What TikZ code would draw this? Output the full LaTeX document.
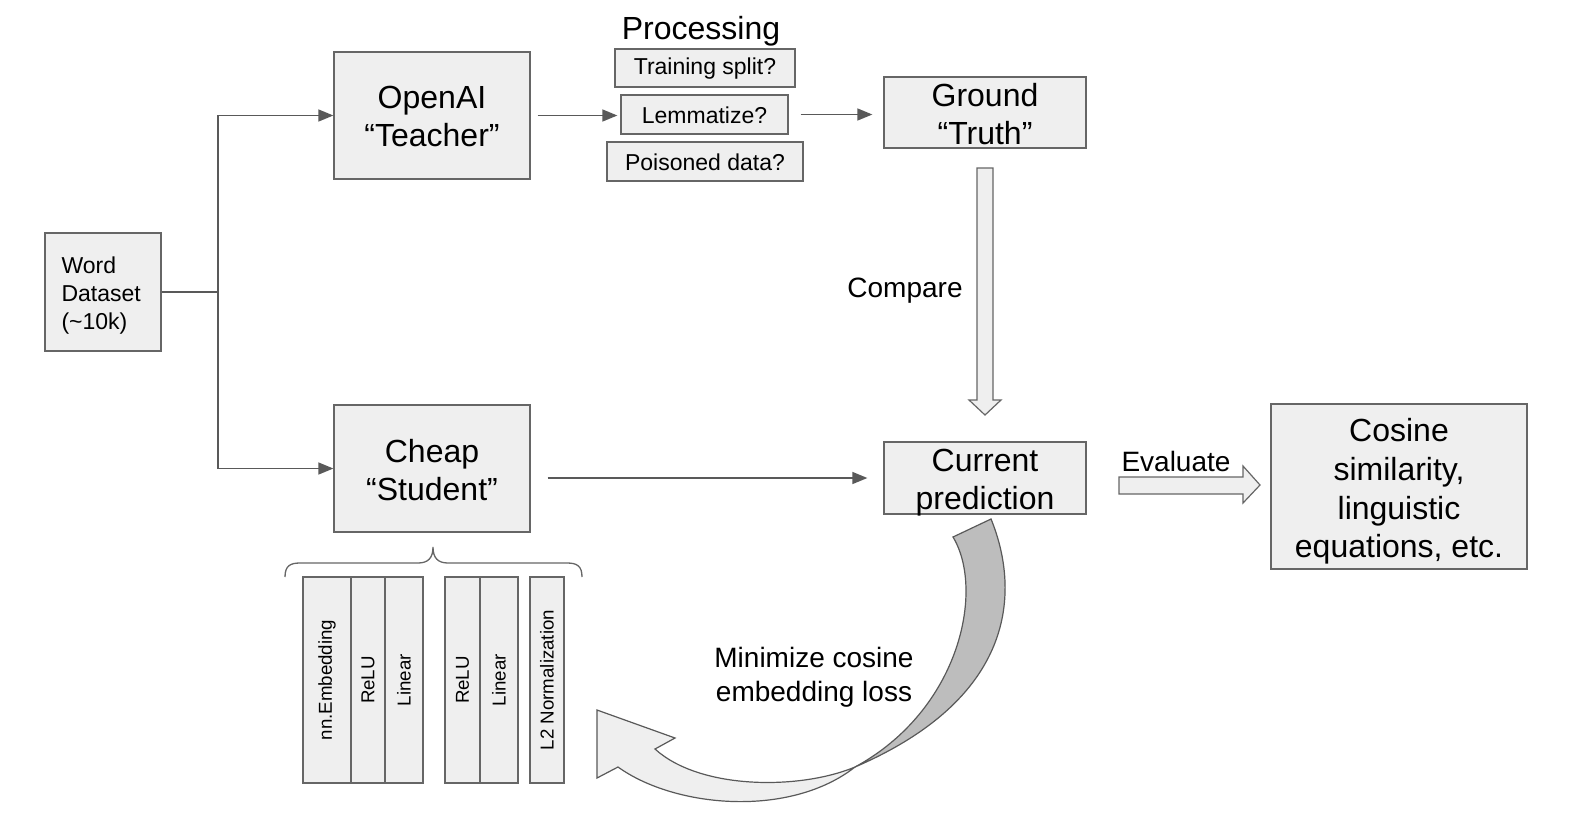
\documentclass[tikz,border=0pt]{standalone}
\usepackage{fontspec}
\setmainfont{Liberation Sans}
\usetikzlibrary{arrows.meta,calc}
\definecolor{boxfill}{HTML}{EFEFEF}
\definecolor{boxline}{HTML}{666666}
\definecolor{arrline}{HTML}{595959}
\definecolor{darkfill}{HTML}{BDBDBD}
\newcommand{\fsz}[2]{\fontsize{#1}{#2}\selectfont}
\begin{document}
\begin{tikzpicture}[x=1pt,y=-1pt,
  box/.style={draw=boxline, fill=boxfill, line width=1.3pt, inner sep=0pt, align=center},
  big/.style={font=\fsz{32}{38}, inner sep=0pt, align=center},
  mid/.style={font=\fsz{23}{28}, inner sep=0pt},
  lbl/.style={font=\fsz{28}{34}, inner sep=0pt, align=center},
  layer/.style={box, rotate=90, minimum width=206pt, font=\fsz{18.7}{22}},
  conn/.style={draw=arrline, line width=1.5pt},
  arr/.style={conn, -{Triangle[length=15pt,width=12pt]}},
  block/.style={fill=boxfill, draw=boxline, line width=1.2pt, line join=miter},
]
\useasboundingbox (0,0) rectangle (1570,812);
\fill[white] (0,0) rectangle (1570,812);

% boxes
\node[box, minimum width=116pt, minimum height=118pt,
  label={[mid, align=left, anchor=west, yshift=-4pt]west:{\hspace*{17pt}Word\\\hspace*{17pt}Dataset\\\hspace*{17pt}(\textasciitilde10k)}}] (word) at (103,292) {};
\node[box, minimum width=196pt, minimum height=127pt,
  label={[big, yshift=-1pt]center:{OpenAI\\“Teacher”}}] (teacher) at (432,115.5) {};
\node[box, minimum width=196pt, minimum height=127pt,
  label={[big, yshift=-2pt]center:{Cheap\\“Student”}}] (student) at (432,468.5) {};
\node[font=\fsz{32}{38}, inner sep=0pt] (proc) at (701,31) {Processing};
\node[box, minimum width=180pt, minimum height=38pt,
  label={[mid, yshift=-1pt]center:{Training split?}}] (split) at (705,68) {};
\node[box, minimum width=167pt, minimum height=39pt,
  label={[mid, yshift=-1pt]center:{Lemmatize?}}] (lemma) at (704.5,114.5) {};
\node[box, minimum width=196pt, minimum height=39pt,
  label={[mid, yshift=-1pt]center:{Poisoned data?}}] (poison) at (705,161.5) {};
\node[box, minimum width=202pt, minimum height=71pt,
  label={[big, yshift=-2pt]center:{Ground\\“Truth”}}] (ground) at (985,112.5) {};
\node[box, minimum width=202pt, minimum height=72pt,
  label={[big, yshift=-5pt]center:{Current\\prediction}}] (current) at (985,478) {};
\node[box, minimum width=256pt, minimum height=165pt,
  label={[font=\fsz{32}{38.6}, inner sep=0pt, align=center, yshift=-5pt]center:{Cosine\\similarity,\\linguistic\\equations, etc.}}] (cosine) at (1399,486.5) {};

% connectors
\coordinate (fork) at (218,292);
\draw[conn] (word.east) -- (fork);
\draw[arr] (fork) |- (teacher.west);
\draw[arr] (fork) |- (student.west);
\draw[arr, shorten <=7pt, shorten >=3pt] (teacher.east) -- (teacher.east -| lemma.west);
\draw[arr, shorten <=12pt, shorten >=11pt] (lemma.east) -- (lemma.east -| ground.west);
\draw[arr, shorten <=17pt, shorten >=16pt] (student.east |- current.west) -- (current.west);

% compare block arrow
\filldraw[block] (977,168) -- (993,168) -- (993,400) -- (1001,400) -- (985,415) -- (969,400) -- (977,400) -- cycle;
\node[lbl] (compare) at (905,291) {Compare};

% evaluate block arrow
\filldraw[block] (1119,477) -- (1243,477) -- (1243,466) -- (1260,485) -- (1243,503) -- (1243,494) -- (1119,494) -- cycle;
\node[lbl] (evaluate) at (1176,461) {Evaluate};

% brace
\draw[draw=boxline, line width=1.3pt] (285,577) .. controls (285,566) and (290,563) .. (300,563) -- (418,563) .. controls (428,563) and (433,558) .. (433,547) .. controls (433,558) and (438,563) .. (448,563) -- (567,563) .. controls (577,563) and (582,566) .. (582,577);

% layers
\node[layer, minimum height=48pt] (emb) at (327,680) {nn.Embedding};
\node[layer, minimum height=34pt] (relu1) at (368,680) {ReLU};
\node[layer, minimum height=38pt] (lin1) at (404,680) {Linear};
\node[layer, minimum height=35pt] (relu2) at (462.5,680) {ReLU};
\node[layer, minimum height=38pt] (lin2) at (499,680) {Linear};
\node[layer, minimum height=34pt] (l2) at (547,680) {L2 Normalization};

% curved arrow
\coordinate (cross) at (855,767);
\filldraw[fill=boxfill, draw=arrline, line width=1.2pt, line join=miter]
  (cross) .. controls (800,790) and (700,790) .. (655,749)
  -- (675,738) -- (597,710) -- (597,778) -- (618,767)
  .. controls (675,808) and (790,818) .. (cross) -- cycle;
\filldraw[fill=darkfill, draw=arrline, line width=1.2pt, line join=miter]
  (953,537) -- (991,519)
  .. controls (1018,585) and (1022,695) .. (cross)
  .. controls (960,710) and (985,590) .. (953,537) -- cycle;
\node[lbl] (minimize) at (814,677) {Minimize cosine\\embedding loss};
\end{tikzpicture}
\end{document}
